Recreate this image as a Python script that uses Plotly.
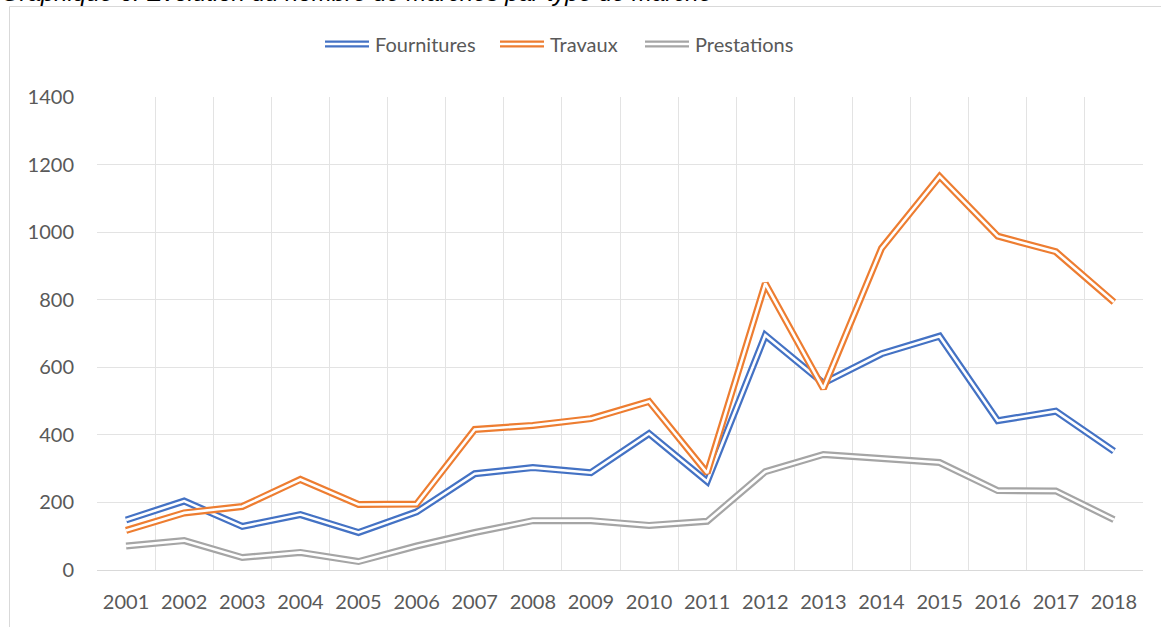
import plotly.graph_objects as go

years = [str(y) for y in range(2001, 2019)]
fournitures = [148, 204, 129, 164, 111, 172, 285, 303, 288, 404, 262, 695, 553, 640, 692, 442, 470, 352]
travaux = [117, 169, 188, 268, 194, 195, 416, 428, 448, 499, 287, 848, 537, 952, 1165, 988, 942, 793]
prestations = [71, 87, 37, 52, 25, 71, 111, 146, 146, 132, 144, 291, 342, 330, 318, 235, 234, 149]

series_names = ["Fournitures", "Travaux", "Prestations"]
series_values = [fournitures, travaux, prestations]
series_colors = ["#4472C4", "#ED7D31", "#A5A5A5"]

title_text = "Graphique 6: Evolution du nombre de marchés par type de marché"

W, H = 1161, 627
L, R, T, B = 97, 18, 97, 57
pw, ph = W - L - R, H - T - B

def px_to_paper_x(px):
    return (px - L) / pw

def px_to_paper_y(py):
    return 1 - (py - T) / ph

OUTER_W, INNER_W = 7, 2.6

fig = go.Figure()
for name, vals, col in zip(series_names, series_values, series_colors):
    fig.add_trace(go.Scatter(x=years, y=vals, mode="lines", name=name,
                             line=dict(color=col, width=OUTER_W), legendgroup=name))
    fig.add_trace(go.Scatter(x=years, y=vals, mode="lines", name=name,
                             line=dict(color="white", width=INNER_W), legendgroup=name,
                             showlegend=False, hoverinfo="skip"))

font_main = "Lato, 'Open Sans', sans-serif"

# manual legend (double-line swatches like the original)
legend_x = [325, 500, 645]   # swatch start positions in pixels
legend_y = 44
shapes = [dict(type="rect", xref="paper", yref="paper",
               x0=px_to_paper_x(9.5), x1=px_to_paper_x(W + 20),
               y0=px_to_paper_y(H + 20), y1=px_to_paper_y(6.5),
               line=dict(color="#d9d9d9", width=1), fillcolor="rgba(0,0,0,0)",
               layer="below")]
annotations = [dict(text="<i>" + title_text + "</i>", xref="paper", yref="paper",
                    x=px_to_paper_x(-1), xanchor="left",
                    y=px_to_paper_y(8), yanchor="bottom", showarrow=False,
                    font=dict(family="'Liberation Sans', Arial, sans-serif",
                              size=24, color="#000000"))]
for name, col, lx in zip(series_names, series_colors, legend_x):
    for c, w in ((col, OUTER_W), ("white", INNER_W)):
        shapes.append(dict(type="line", xref="paper", yref="paper",
                           x0=px_to_paper_x(lx), x1=px_to_paper_x(lx + 44),
                           y0=px_to_paper_y(legend_y), y1=px_to_paper_y(legend_y),
                           line=dict(color=c, width=w), layer="above"))
    annotations.append(dict(text=name, xref="paper", yref="paper",
                            x=px_to_paper_x(lx + 48), xanchor="left",
                            y=px_to_paper_y(legend_y), yanchor="middle",
                            showarrow=False,
                            font=dict(family=font_main, size=20, color="#595959")))

fig.update_layout(
    width=W, height=H,
    margin=dict(l=L, r=R, t=T, b=B),
    paper_bgcolor="white", plot_bgcolor="white",
    font=dict(family=font_main, size=20, color="#595959"),
    showlegend=False,
    xaxis=dict(type="category", range=[-0.5, 17.5], tickson="boundaries",
               showgrid=True, gridcolor="#e3e3e3", gridwidth=1,
               ticks="", showline=True, linecolor="#d9d9d9", linewidth=1,
               ticklabelstandoff=14, tickfont=dict(size=20, color="#595959")),
    yaxis=dict(range=[0, 1400], dtick=200, showgrid=True, gridcolor="#e3e3e3",
               gridwidth=1, zeroline=False, showline=False, ticks="",
               ticklabelstandoff=22, tickfont=dict(size=20, color="#595959")),
    shapes=shapes,
    annotations=annotations,
)

fig.write_html("out.html", config={"displayModeBar": False},
               post_script="document.body.style.margin='0px';")
